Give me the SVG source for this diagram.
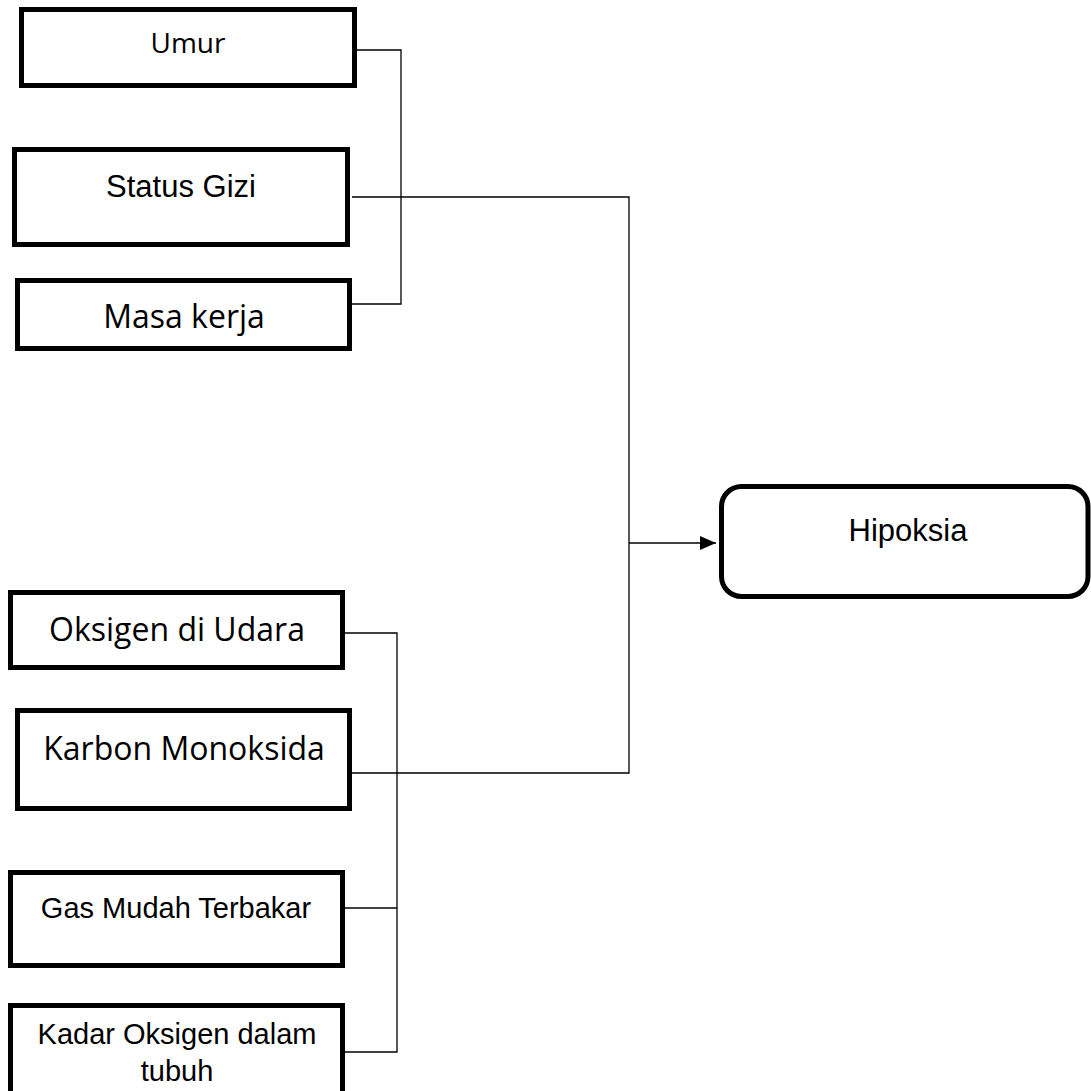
<svg xmlns="http://www.w3.org/2000/svg" width="1091" height="1091" viewBox="0 0 1091 1091">
<style>
.box{fill:#fff;stroke:#000;stroke-width:5}
.ln{fill:none;stroke:#000;stroke-width:1.3}
.a{font-family:"Liberation Sans",Arial,sans-serif;fill:#000;text-anchor:middle}
.o{font-family:"Open Sans","Noto Sans",sans-serif;fill:#000;text-anchor:middle}
</style>
<defs>
<marker id="arr" markerUnits="userSpaceOnUse" markerWidth="18" markerHeight="16" refX="16" refY="7" orient="auto">
<path d="M0,0 L16,7 L0,14 Z" fill="#000"/>
</marker>
</defs>
<rect width="1091" height="1091" fill="#fff"/>
<g id="connectors">
<polyline class="ln" points="357,50 401,50 401,304 352,304"/>
<polyline class="ln" points="352,197 629,197 629,773 352,773"/>
<polyline class="ln" points="345,633 397,633 397,1052 345,1052"/>
<line class="ln" x1="345" y1="908" x2="397" y2="908"/>
<line class="ln" x1="629" y1="543" x2="716" y2="543" marker-end="url(#arr)"/>
</g>
<g id="umur">
<rect class="box" x="21.5" y="9.5" width="333" height="76"/>
<text class="o" x="188" y="53" font-size="28">Umur</text>
</g>
<g id="status-gizi">
<rect class="box" x="14.5" y="149.5" width="333" height="95"/>
<text class="a" x="181" y="197" font-size="31">Status Gizi</text>
</g>
<g id="masa-kerja">
<rect class="box" x="17.5" y="280.5" width="332" height="68"/>
<text class="o" x="184" y="328" font-size="32">Masa kerja</text>
</g>
<g id="oksigen-udara">
<rect class="box" x="10.5" y="592.5" width="332" height="75"/>
<text class="o" x="177" y="641" font-size="32">Oksigen di Udara</text>
</g>
<g id="karbon-monoksida">
<rect class="box" x="17.5" y="710.5" width="332" height="98"/>
<text class="o" x="184" y="760" font-size="32">Karbon Monoksida</text>
</g>
<g id="gas-mudah-terbakar">
<rect class="box" x="10.5" y="872.5" width="332" height="93"/>
<text class="a" x="176" y="918" font-size="29">Gas Mudah Terbakar</text>
</g>
<g id="kadar-oksigen">
<rect class="box" x="10.5" y="1005.5" width="332" height="100"/>
<text class="a" x="177" y="1044" font-size="29">Kadar Oksigen dalam</text>
<text class="a" x="177" y="1081" font-size="29">tubuh</text>
</g>
<g id="hipoksia">
<rect class="box" x="721.5" y="486.5" width="366.5" height="110" rx="20" ry="20"/>
<text class="a" x="908" y="541" font-size="31">Hipoksia</text>
</g>
</svg>
